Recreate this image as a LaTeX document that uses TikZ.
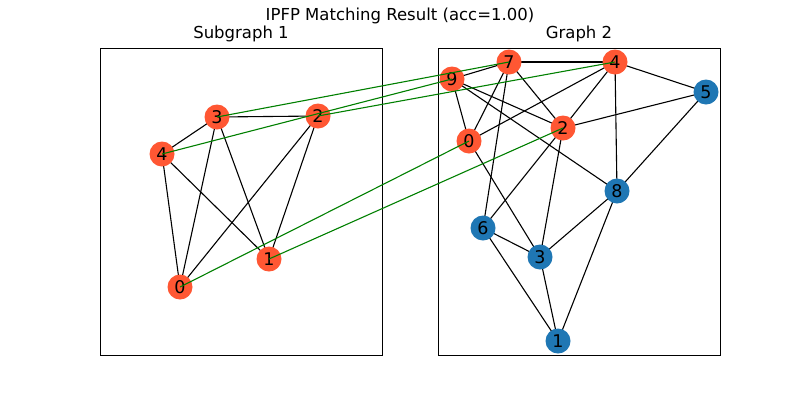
\documentclass[tikz,border=0pt]{standalone}
\usepackage{fontspec}
\setmainfont{DejaVu Sans}
\definecolor{nodeor}{HTML}{FF5733}
\definecolor{nodebl}{HTML}{1F77B4}
\definecolor{mgreen}{HTML}{008000}
\begin{document}
\begin{tikzpicture}[x=1pt,y=-1pt,
  gn/.style={circle,minimum size=25pt,inner sep=0pt,font=\fontsize{17.5}{19}\selectfont},
  orn/.style={gn,fill=nodeor},
  bln/.style={gn,fill=nodebl},
  edge/.style={black,line width=1.1pt},
  match/.style={mgreen,line width=1.1pt},
  panel/.style={draw=black,line width=1pt},
  ttl/.style={font=\fontsize{16.5}{18}\selectfont,inner sep=0pt}]
\useasboundingbox (0,0) rectangle (800,400);
\fill[white] (0,0) rectangle (800,400);
\node[ttl] (title) at (400,16) {IPFP Matching Result (acc=1.00)};
\node[ttl] (t1) at (241,34) {Subgraph 1};
\node[ttl] (t2) at (579,34) {Graph 2};
\draw[panel] (100,48) rectangle (382,355);
\draw[panel] (438,48) rectangle (720,355);
% left graph coords
\coordinate (La3) at (217,117);
\coordinate (La2) at (318,116);
\coordinate (La4) at (162,154);
\coordinate (La1) at (269,259);
\coordinate (La0) at (180,287);
% right graph coords
\coordinate (Rb9) at (452,79);
\coordinate (Rb7) at (509,62);
\coordinate (Rb4) at (615,62);
\coordinate (Rb5) at (706,92);
\coordinate (Rb0) at (469,141);
\coordinate (Rb2) at (563,128);
\coordinate (Rb8) at (617,191);
\coordinate (Rb6) at (483,228);
\coordinate (Rb3) at (540,257);
\coordinate (Rb1) at (558,341);
% left edges
\foreach \a/\b in {3/2,3/4,3/0,3/1,2/0,2/1,4/0,4/1}
  \draw[edge] (La\a) -- (La\b);
% right edges
\foreach \a/\b in {9/7,9/0,9/2,9/8,7/4,7/0,7/6,7/2,4/0,4/2,4/8,4/5,5/2,5/8,0/3,2/6,2/3,8/3,8/1,6/3,6/1,3/1}
  \draw[edge] (Rb\a) -- (Rb\b);
% nodes
\foreach \n in {3,2,4,1,0}
  \node[orn] (L\n) at (La\n) {\n};
\foreach \n in {9,7,4,0,2}
  \node[orn] (R\n) at (Rb\n) {\n};
\foreach \n in {5,8,6,3,1}
  \node[bln] (R\n) at (Rb\n) {\n};
% matching
\foreach \a/\b in {0/0,1/2,2/4,3/7,4/9}
  \draw[match] (L\a.center) -- (R\b.center);
\end{tikzpicture}
\end{document}
